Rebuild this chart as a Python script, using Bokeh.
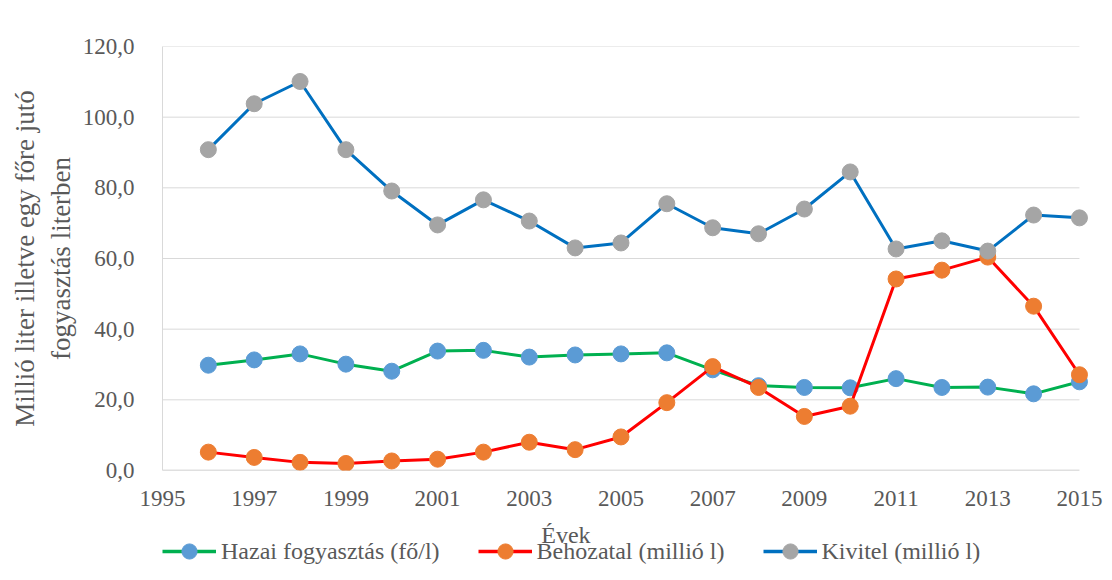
from bokeh.plotting import figure
from bokeh.layouts import column
from bokeh.models import Range1d, FixedTicker, CustomJSTickFormatter, Legend, LegendItem, Label
from bokeh.embed import file_html
from bokeh.resources import INLINE

years = list(range(1996, 2016))
hazai = [29.8, 31.3, 33.0, 30.1, 28.1, 33.8, 34.0, 32.1, 32.7, 33.0,
         33.3, 28.5, 24.0, 23.5, 23.4, 26.0, 23.5, 23.6, 21.7, 25.1]
behozatal = [5.2, 3.7, 2.3, 2.0, 2.7, 3.2, 5.2, 8.0, 5.9, 9.5,
             19.2, 29.4, 23.5, 15.3, 18.2, 54.2, 56.7, 60.4, 46.5, 27.1]
kivitel = [90.8, 103.8, 110.1, 90.8, 79.1, 69.5, 76.6, 70.6, 63.0, 64.4,
           75.5, 68.7, 67.0, 74.0, 84.5, 62.7, 65.0, 62.1, 72.3, 71.5]

series_names = ["Hazai fogyasztás (fő/l)", "Behozatal (millió l)", "Kivitel (millió l)"]
x_ticks = list(range(1995, 2016, 2))
y_ticks = [0, 20, 40, 60, 80, 100, 120]
x_label = "Évek"
y_label = "Millió liter illetve egy főre jutó\nfogyasztás literben"

FONT = "Liberation Serif"
TXT = "#595959"
W = 1104

xr = Range1d(1995, 2015.35)
p = figure(width=W, height=512, output_backend="svg", toolbar_location=None,
           x_range=xr, y_range=Range1d(0, 120),
           min_border_left=162, min_border_right=9, min_border_top=46, min_border_bottom=42)
p.outline_line_color = None
p.xgrid.visible = False
p.ygrid.visible = False

# gridlines limited to the data span
for yt in y_ticks[1:]:
    p.segment(x0=x_ticks[0], x1=x_ticks[-1], y0=yt, y1=yt, line_color="#d9d9d9", line_width=1)
p.segment(x0=x_ticks[0], x1=x_ticks[-1], y0=y_ticks[0], y1=y_ticks[0], line_color="#bfbfbf", line_width=1.3)

p.xaxis.ticker = FixedTicker(ticks=x_ticks)
p.yaxis.ticker = FixedTicker(ticks=y_ticks)
p.yaxis.formatter = CustomJSTickFormatter(code="return tick.toFixed(1).replace('.', ',');")
for ax in (p.xaxis[0], p.yaxis[0]):
    ax.major_tick_line_color = None
    ax.minor_tick_line_color = None
    ax.major_label_text_font = FONT
    ax.major_label_text_font_size = "23px"
    ax.major_label_text_color = TXT
p.xaxis.axis_line_color = None
p.yaxis.axis_line_color = "#d9d9d9"
p.xaxis.major_label_standoff = 14
p.yaxis.major_label_standoff = 22
p.yaxis.axis_label = y_label
p.yaxis.axis_label_text_font = FONT
p.yaxis.axis_label_text_font_size = "27px"
p.yaxis.axis_label_text_font_style = "normal"
p.yaxis.axis_label_text_color = TXT
p.yaxis.axis_label_standoff = 4

specs = [
    (hazai, "#00B050", "#5B9BD5"),
    (behozatal, "#FF0000", "#ED7D31"),
    (kivitel, "#0070C0", "#A5A5A5"),
]
for vals, lc, mc in specs:
    p.line(years, vals, line_color=lc, line_width=3)
    p.scatter(years, vals, size=16, fill_color=mc, line_color=mc)

# bottom strip: x-axis title and legend (its y range lies above the data, so
# the legend's sample renderers draw nothing visible in the strip itself)
q = figure(width=W, height=60, output_backend="svg", toolbar_location=None,
           x_range=xr, y_range=Range1d(200, 260),
           min_border_left=162, min_border_right=9, min_border_top=0, min_border_bottom=0,
           x_axis_type=None, y_axis_type=None)
q.outline_line_color = None
q.xgrid.visible = False
q.ygrid.visible = False

items = []
for (vals, lc, mc), name in zip(specs, series_names):
    l = q.line(years, vals, line_color=lc, line_width=3.5)
    s = q.scatter(years, vals, size=15, fill_color=mc, line_color=mc)
    items.append(LegendItem(label=name, renderers=[l, s]))

q.add_layout(Label(x=2003.8, y=238, text=x_label, text_align="center", text_baseline="alphabetic",
                   text_font=FONT, text_font_size="24px", text_color=TXT))

legend = Legend(items=items, orientation="horizontal", location=(0, 2),
                border_line_color=None, background_fill_alpha=0, padding=0, margin=0,
                spacing=38, glyph_width=54, glyph_height=38, label_standoff=5,
                label_text_font=FONT, label_text_font_size="24px", label_text_color=TXT)
q.add_layout(legend)

layout = column(p, q, spacing=0)
open("out.html", "w").write(file_html(layout, INLINE))
